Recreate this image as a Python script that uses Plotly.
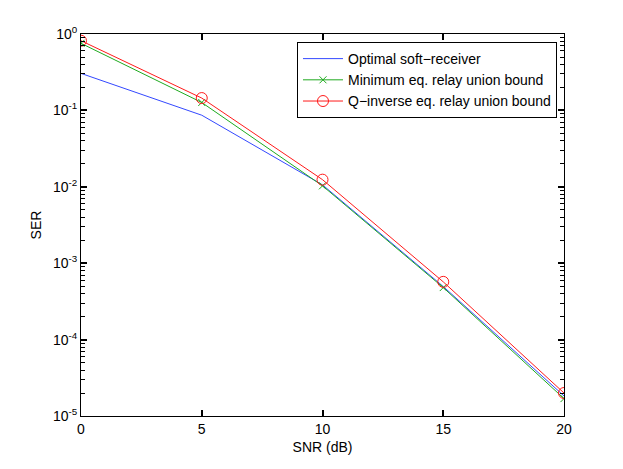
import plotly.graph_objects as go

snr = [0, 5, 10, 15, 20]
ser_optimal = [0.305, 0.0865, 0.0106, 4.95e-4, 1.83e-5]
ser_minimum = [0.755, 0.127, 0.0103, 4.8e-4, 1.69e-5]
ser_qinverse = [0.817, 0.145, 0.0124, 5.7e-4, 2.0e-5]

y_ticks = [1e-5, 1e-4, 1e-3, 1e-2, 1e-1, 1e0]
y_ticktext = ["10<sup>-5</sup>", "10<sup>-4</sup>", "10<sup>-3</sup>",
              "10<sup>-2</sup>", "10<sup>-1</sup>", "10<sup>0</sup>"]

fig = go.Figure()
fig.add_trace(go.Scatter(x=snr, y=ser_optimal, mode="lines",
                         name="Optimal soft\u2212receiver",
                         line=dict(color="#3348ff", width=1)))
fig.add_trace(go.Scatter(x=snr, y=ser_minimum, mode="lines+markers",
                         name="Minimum eq. relay union bound",
                         line=dict(color="#1faa1f", width=1),
                         marker=dict(symbol="x-thin", size=7,
                                     line=dict(color="#1faa1f", width=1))))
fig.add_trace(go.Scatter(x=snr, y=ser_qinverse, mode="lines+markers",
                         name="Q\u2212inverse eq. relay union bound",
                         line=dict(color="#ff1a1a", width=1),
                         marker=dict(symbol="circle-open", size=11,
                                     line=dict(color="#ff1a1a", width=1))))

fig.update_xaxes(range=[0, 20], tick0=0, dtick=5,
                 showline=True, linecolor="black", mirror="ticks",
                 ticks="inside", ticklen=6, tickwidth=1.5, tickcolor="black",
                 showgrid=False, zeroline=False,
                 tickfont=dict(size=14, color="black"),
                 title=dict(text="SNR (dB)", font=dict(size=14, color="black"), standoff=6))
fig.update_yaxes(type="log", range=[-5, 0], tickmode="array",
                 tickvals=y_ticks, ticktext=y_ticktext,
                 showline=True, linecolor="black", mirror="ticks",
                 ticks="inside", ticklen=6, tickwidth=1.5, tickcolor="black",
                 minor=dict(ticks="inside", ticklen=4, tickwidth=1.2,
                            tickcolor="black", dtick="D1", showgrid=False),
                 showgrid=False, zeroline=False,
                 tickfont=dict(size=14, color="black"),
                 title=dict(text="SER", font=dict(size=14, color="black"), standoff=8))

fig.update_layout(
    width=623, height=469,
    margin=dict(l=73, r=67, t=26, b=61),
    paper_bgcolor="white", plot_bgcolor="white",
    font=dict(family="Liberation Sans, Arial, sans-serif", size=14, color="black"),
    legend=dict(x=0.9855, y=0.979, xanchor="right", yanchor="top",
                bgcolor="white", bordercolor="black", borderwidth=1,
                font=dict(size=14), tracegroupgap=0, itemwidth=40),
    showlegend=True,
)

fig.write_html("out.html")
